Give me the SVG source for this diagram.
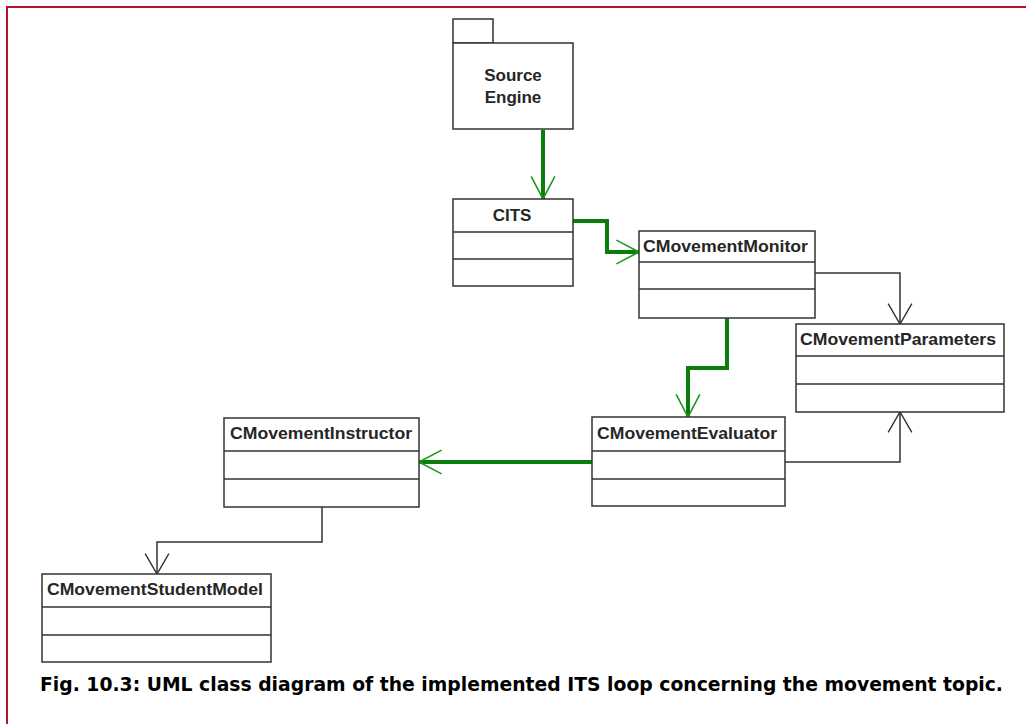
<svg xmlns="http://www.w3.org/2000/svg" width="1026" height="724" viewBox="0 0 1026 724">
  <style>
    .box { fill: #ffffff; stroke: #333333; stroke-width: 1.5; }
    .sep { stroke: #333333; stroke-width: 1.5; }
    .name { font-family: "Liberation Sans", Arial, sans-serif; font-weight: bold; font-size: 17px; fill: #262626; }
    .flow { fill: none; stroke: #0a7d0a; stroke-width: 4; stroke-linejoin: miter; }
    .dep { fill: none; stroke: #333333; stroke-width: 1.5; }
    .caption { font-family: "DejaVu Sans", Verdana, sans-serif; font-weight: bold; font-size: 19px; fill: #000000; }
  </style>
  <defs>
    <marker id="openGreen" markerUnits="userSpaceOnUse" markerWidth="26" markerHeight="28" viewBox="-22 -13 24 26" refX="0" refY="0" orient="auto">
      <path d="M-21,-11 L0,0 L-21,11" fill="none" stroke="#1a9a1a" stroke-width="1.5"/>
    </marker>
    <marker id="openBlack" markerUnits="userSpaceOnUse" markerWidth="26" markerHeight="28" viewBox="-22 -13 24 26" refX="0" refY="0" orient="auto">
      <path d="M-19,-11 L0,0 L-19,11" fill="none" stroke="#333333" stroke-width="1.3"/>
    </marker>
  </defs>

  <rect width="1026" height="724" fill="#ffffff"/>

  <!-- frame -->
  <g id="frame" fill="none" stroke="#b8102e" stroke-width="2">
    <path d="M7,724 V7 H1026"/>
  </g>

  <!-- connectors -->
  <g id="connectors">
    <path class="flow" d="M543,130 V199" marker-end="url(#openGreen)"/>
    <path class="flow" d="M573,221 H607 V252 H639" marker-end="url(#openGreen)"/>
    <path class="flow" d="M727,318 V368 H688 V417" marker-end="url(#openGreen)"/>
    <path class="flow" d="M592,462 H419" marker-end="url(#openGreen)"/>
    <path class="dep" d="M815,273 H900 V324" marker-end="url(#openBlack)"/>
    <path class="dep" d="M785,462 H900 V412" marker-end="url(#openBlack)"/>
    <path class="dep" d="M322,507 V542 H157 V574" marker-end="url(#openBlack)"/>
  </g>

  <!-- package -->
  <g id="source-engine">
    <rect class="box" x="453" y="19" width="40" height="24"/>
    <rect class="box" x="453" y="43" width="120" height="86"/>
    <text class="name" x="513" y="81" text-anchor="middle">Source</text>
    <text class="name" x="513" y="103" text-anchor="middle">Engine</text>
  </g>

  <g id="cits">
    <rect class="box" x="453" y="199" width="120" height="87"/>
    <line class="sep" x1="453" y1="232" x2="573" y2="232"/>
    <line class="sep" x1="453" y1="259" x2="573" y2="259"/>
    <text class="name" x="512" y="221" text-anchor="middle">CITS</text>
  </g>

  <g id="movement-monitor">
    <rect class="box" x="639" y="231" width="176" height="87"/>
    <line class="sep" x1="639" y1="262" x2="815" y2="262"/>
    <line class="sep" x1="639" y1="289" x2="815" y2="289"/>
    <text class="name" x="643" y="252" textLength="165" lengthAdjust="spacingAndGlyphs">CMovementMonitor</text>
  </g>

  <g id="movement-parameters">
    <rect class="box" x="796" y="324" width="208" height="88"/>
    <line class="sep" x1="796" y1="356" x2="1004" y2="356"/>
    <line class="sep" x1="796" y1="384" x2="1004" y2="384"/>
    <text class="name" x="800" y="345" textLength="196" lengthAdjust="spacingAndGlyphs">CMovementParameters</text>
  </g>

  <g id="movement-evaluator">
    <rect class="box" x="592" y="417" width="193" height="89"/>
    <line class="sep" x1="592" y1="451" x2="785" y2="451"/>
    <line class="sep" x1="592" y1="479" x2="785" y2="479"/>
    <text class="name" x="597" y="439" textLength="180" lengthAdjust="spacingAndGlyphs">CMovementEvaluator</text>
  </g>

  <g id="movement-instructor">
    <rect class="box" x="224" y="418" width="195" height="89"/>
    <line class="sep" x1="224" y1="451" x2="419" y2="451"/>
    <line class="sep" x1="224" y1="479" x2="419" y2="479"/>
    <text class="name" x="230" y="439" textLength="182" lengthAdjust="spacingAndGlyphs">CMovementInstructor</text>
  </g>

  <g id="movement-student-model">
    <rect class="box" x="42" y="574" width="229" height="88"/>
    <line class="sep" x1="42" y1="607" x2="271" y2="607"/>
    <line class="sep" x1="42" y1="635" x2="271" y2="635"/>
    <text class="name" x="47" y="595" textLength="216" lengthAdjust="spacingAndGlyphs">CMovementStudentModel</text>
  </g>

  <g id="caption">
    <text class="caption" x="40" y="691" textLength="963" lengthAdjust="spacingAndGlyphs">Fig. 10.3: UML class diagram of the implemented ITS loop concerning the movement topic.</text>
  </g>
</svg>
